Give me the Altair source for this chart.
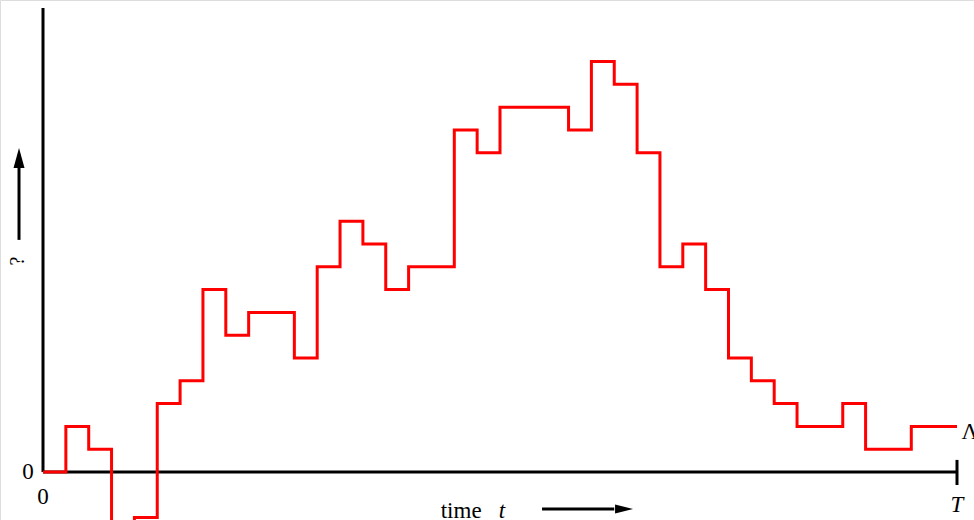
import altair as alt
import pandas as pd

# step values per interval (40 intervals over [0, T])
levels = [0, 2, 1, -3, -2, 3, 4, 8, 6, 7, 7, 5, 9, 11, 10, 8, 9, 9, 15, 14,
          16, 16, 16, 15, 18, 17, 14, 9, 10, 8, 5, 4, 3, 2, 2, 3, 1, 1, 2, 2]
steps = list(range(len(levels) + 1))
values = levels + [levels[-1]]

T = 40
XMIN, XMAX = -1.882, 40.744
YMIN, YMAX = -2.105, 20.70

df = pd.DataFrame({"t": steps, "v": values})

xs = alt.Scale(domain=[XMIN, XMAX], nice=False, zero=False)
ys = alt.Scale(domain=[YMIN, YMAX], nice=False, zero=False)
X = lambda f: alt.X(f, scale=xs, axis=None)
Y = lambda f: alt.Y(f, scale=ys, axis=None)

FONT = "Liberation Serif"

# axes
axes_df = pd.DataFrame({"x": [0, 0, T], "x2": [0, T, T], "y": [0, 0, -0.57], "y2": [20.35, 0, 0.53]})
axes = alt.Chart(axes_df).mark_rule(color="black", strokeWidth=3, strokeCap="butt").encode(
    x=X("x:Q"), x2="x2", y=Y("y:Q"), y2="y2")

line = alt.Chart(df).mark_line(interpolate="step-after", color="#ff0000", strokeWidth=3,
                               clip=True, strokeJoin="miter").encode(x=X("t:Q"), y=Y("v:Q"))

norm_df = pd.DataFrame({"x": [-0.66, 0], "y": [0, -1.1], "text": ["0", "0"]})
labels_normal = alt.Chart(norm_df).mark_text(
    font=FONT, fontSize=23, baseline="middle", align="center", clip=False).encode(
    x=X("x:Q"), y=Y("y:Q"), text="text:N")

time_lbl = alt.Chart(pd.DataFrame({"x": [18.30], "y": [-2.03], "text": ["time"]})).mark_text(
    font=FONT, fontSize=23, baseline="alphabetic", align="center", clip=False).encode(
    x=X("x:Q"), y=Y("y:Q"), text="text:N")

t_lbl = alt.Chart(pd.DataFrame({"x": [20.08], "y": [-2.03], "text": ["t"]})).mark_text(
    font=FONT, fontSize=23, fontStyle="italic", baseline="alphabetic", align="center", clip=False).encode(
    x=X("x:Q"), y=Y("y:Q"), text="text:N")

T_lbl = alt.Chart(pd.DataFrame({"x": [T], "y": [-1.45], "text": ["T"]})).mark_text(
    font=FONT, fontSize=23, fontStyle="italic", baseline="middle", align="center", clip=False).encode(
    x=X("x:Q"), y=Y("y:Q"), text="text:N")

lam = alt.Chart(pd.DataFrame({"x": [40.2], "y": [1.75], "text": ["Λ"]})).mark_text(
    font=FONT, fontSize=23, baseline="middle", align="left", clip=False).encode(
    x=X("x:Q"), y=Y("y:Q"), text="text:N")

qmark = alt.Chart(pd.DataFrame({"x": [-1.094], "y": [9.25], "text": ["?"]})).mark_text(
    font=FONT, fontSize=20, baseline="middle", align="center", angle=270, clip=False).encode(
    x=X("x:Q"), y=Y("y:Q"), text="text:N")

# arrows
shaft_df = pd.DataFrame({"x": [21.84, -1.05], "x2": [25.0, -1.05], "y": [-1.623, 10.18], "y2": [-1.623, 13.5]})
shafts = alt.Chart(shaft_df).mark_rule(color="black", strokeWidth=3).encode(
    x=X("x:Q"), x2="x2", y=Y("y:Q"), y2="y2")
head_r = alt.Chart(pd.DataFrame({"x": [25.43], "y": [-1.623]})).mark_point(
    shape="M-1,-0.5L1,0L-1,0.5Z", filled=True, color="black", size=324, opacity=1).encode(
    x=X("x:Q"), y=Y("y:Q"))
head_u = alt.Chart(pd.DataFrame({"x": [-1.05], "y": [13.77]})).mark_point(
    shape="M-0.55,1L0,-1L0.55,1Z", filled=True, color="black", size=400, opacity=1).encode(
    x=X("x:Q"), y=Y("y:Q"))

chart = alt.layer(axes, line, labels_normal, time_lbl, t_lbl, T_lbl, lam, qmark, shafts, head_r, head_u).properties(
    width=974, height=520, padding=0, autosize=alt.AutoSizeParams(type="none")
).configure_view(stroke=None).configure(background="white")

chart.save("out.html", embed_options={"renderer": "svg", "actions": False})
